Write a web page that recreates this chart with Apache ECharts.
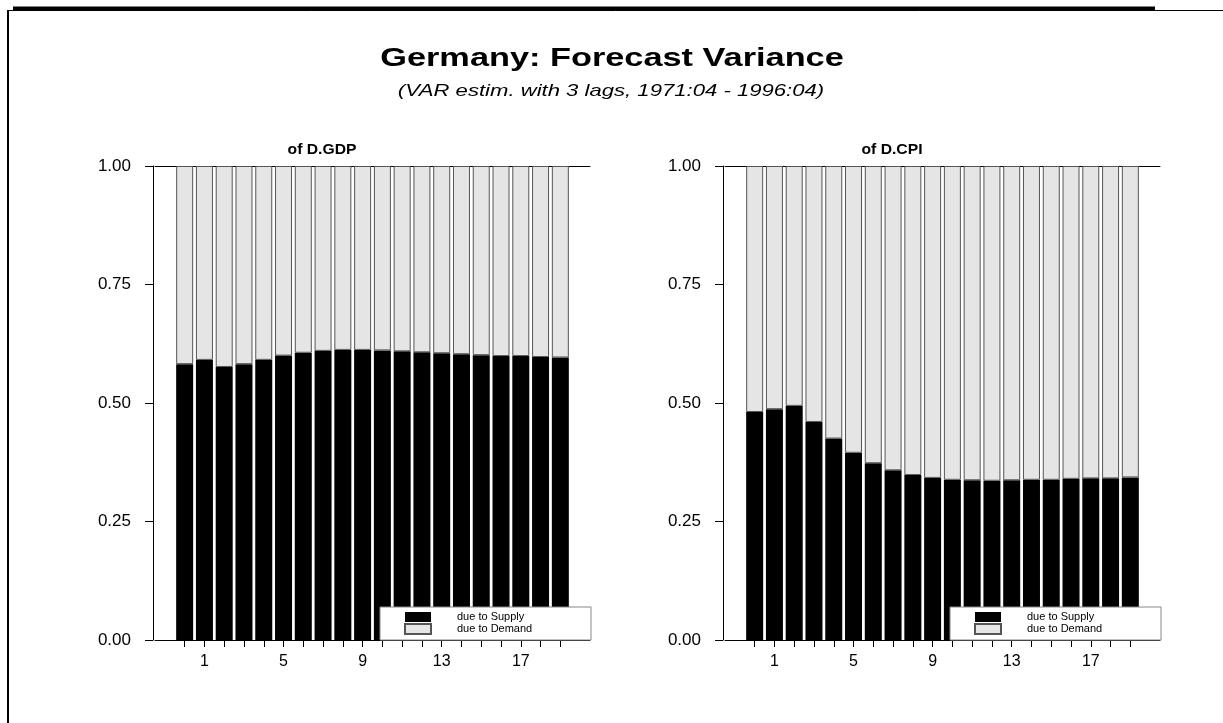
<!DOCTYPE html>
<html>
<head>
<meta charset="utf-8">
<script src="https://cdn.jsdelivr.net/npm/echarts@6/dist/echarts.min.js"></script>
<style>
html,body{margin:0;padding:0;background:#fff;}
#chart{width:1223px;height:723px;}
</style>
</head>
<body>
<div id="chart"></div>
<script>
// ---- data ----
const horizons = ['0','1','2','3','4','5','6','7','8','9','10','11','12','13','14','15','16','17','18','19'];
const xTickLabels = ['1','5','9','13','17'];
const yTicks = [0, 0.25, 0.5, 0.75, 1.0];
const gdpSupply = [0.582,0.591,0.576,0.582,0.591,0.600,0.606,0.610,0.612,0.612,0.611,0.609,0.607,0.605,0.603,0.601,0.599,0.599,0.597,0.596];
const cpiSupply = [0.481,0.487,0.494,0.460,0.425,0.395,0.373,0.358,0.348,0.342,0.338,0.337,0.336,0.337,0.338,0.338,0.340,0.341,0.341,0.343];
const mainTitle = 'Germany: Forecast Variance';
const subTitle = '(VAR estim. with 3 lags, 1971:04 - 1996:04)';
const panelTitles = ['of D.GDP', 'of D.CPI'];
const legendNames = ['due to Supply', 'due to Demand'];

// ---- build ----
const FONT = '"Liberation Sans", Arial, Helvetica, sans-serif';
const cats = [' '].concat(horizons).concat(['  ']);
const pad = arr => [null].concat(arr).concat([null]);
const demandOf = arr => arr.map(v => +(1 - v).toFixed(3));

const grids = [
  {left: 155, top: 166, width: 435, height: 474},
  {left: 725, top: 166, width: 435, height: 474}
];

const xAxes = [], yAxes = [], series = [], legends = [];
[gdpSupply, cpiSupply].forEach((sup, g) => {
  xAxes.push({
    type: 'category', gridIndex: g, data: cats, boundaryGap: true,
    axisLine: {show: true, lineStyle: {color: '#000', width: 1}},
    axisTick: {show: true, length: 7, alignWithLabel: true, lineStyle: {color: '#000'},
      interval: (i) => i >= 1 && i <= horizons.length},
    axisLabel: {interval: (i, v) => xTickLabels.indexOf(v) >= 0, color: '#000',
      fontFamily: FONT, fontSize: 16, margin: 14},
    splitLine: {show: false}
  });
  // top frame line
  xAxes.push({
    type: 'category', gridIndex: g, data: cats, position: 'top',
    axisLine: {show: true, onZero: false, lineStyle: {color: '#000', width: 1}},
    axisTick: {show: false}, axisLabel: {show: false}, splitLine: {show: false}
  });
  yAxes.push({
    type: 'value', gridIndex: g, min: 0, max: 1, interval: 0.25, offset: 2,
    axisLine: {show: true, lineStyle: {color: '#000', width: 1}},
    axisTick: {show: true, length: 8, lineStyle: {color: '#000'}},
    axisLabel: {color: '#000', fontFamily: FONT, fontSize: 17, margin: 22,
      formatter: v => yTicks.indexOf(v) >= 0 ? v.toFixed(2) : ''},
    splitLine: {show: false}
  });
  series.push({
    name: legendNames[0], type: 'bar', stack: 's' + g,
    xAxisIndex: g * 2, yAxisIndex: g, data: pad(sup), barWidth: 17,
    itemStyle: {color: '#000', borderColor: '#000', borderWidth: 0},
    silent: true, animation: false
  });
  series.push({
    name: legendNames[1], type: 'bar', stack: 's' + g,
    xAxisIndex: g * 2, yAxisIndex: g, data: pad(demandOf(sup)), barWidth: 17,
    itemStyle: {color: '#e5e5e5', borderColor: '#555', borderWidth: 1},
    silent: true, animation: false
  });
  legends.push({
    data: legendNames.map(n => ({name: n, icon: 'rect'})), orient: 'vertical',
    left: g === 0 ? 380 : 950, top: 607,
    itemWidth: 26, itemHeight: 10, itemGap: 0,
    padding: [4, 8, 5, 24],
    backgroundColor: '#fff', borderColor: '#888', borderWidth: 1,
    selectedMode: false, z: 10,
    textStyle: {fontFamily: FONT, fontSize: 11, color: '#000', lineHeight: 12,
      padding: [0, 0, 0, 21], width: 126}
  });
});

const txt = (x, y, text, font, sx) => ({
  type: 'text', x: x, y: y, scaleX: sx, z: 100,
  style: {text: text, font: font, fill: '#000',
    textAlign: 'center', textVerticalAlign: 'middle', align: 'center', verticalAlign: 'middle'}
});

const graphic = [
  {type: 'line', shape: {x1: 8, y1: 10.5, x2: 1223, y2: 10.5}, style: {stroke: '#000', lineWidth: 1}},
  {type: 'line', shape: {x1: 13, y1: 8.5, x2: 1155, y2: 8.5}, style: {stroke: '#000', lineWidth: 4}},
  {type: 'line', shape: {x1: 8, y1: 10, x2: 8, y2: 723}, style: {stroke: '#000', lineWidth: 2}},
  txt(612, 59, mainTitle, 'bold 26px ' + FONT, 1.32),
  txt(611, 91, subTitle, 'italic 17px ' + FONT, 1.3),
  txt(322, 150, panelTitles[0], 'bold 14px ' + FONT, 1.12),
  txt(892, 150, panelTitles[1], 'bold 14px ' + FONT, 1.12)
];

const chart = echarts.init(document.getElementById('chart'), null, {renderer: 'canvas'});
chart.setOption({
  animation: false,
  backgroundColor: '#fff',
  grid: grids,
  xAxis: xAxes,
  yAxis: yAxes,
  series: series,
  legend: legends,
  graphic: graphic
});
</script>
</body>
</html>
